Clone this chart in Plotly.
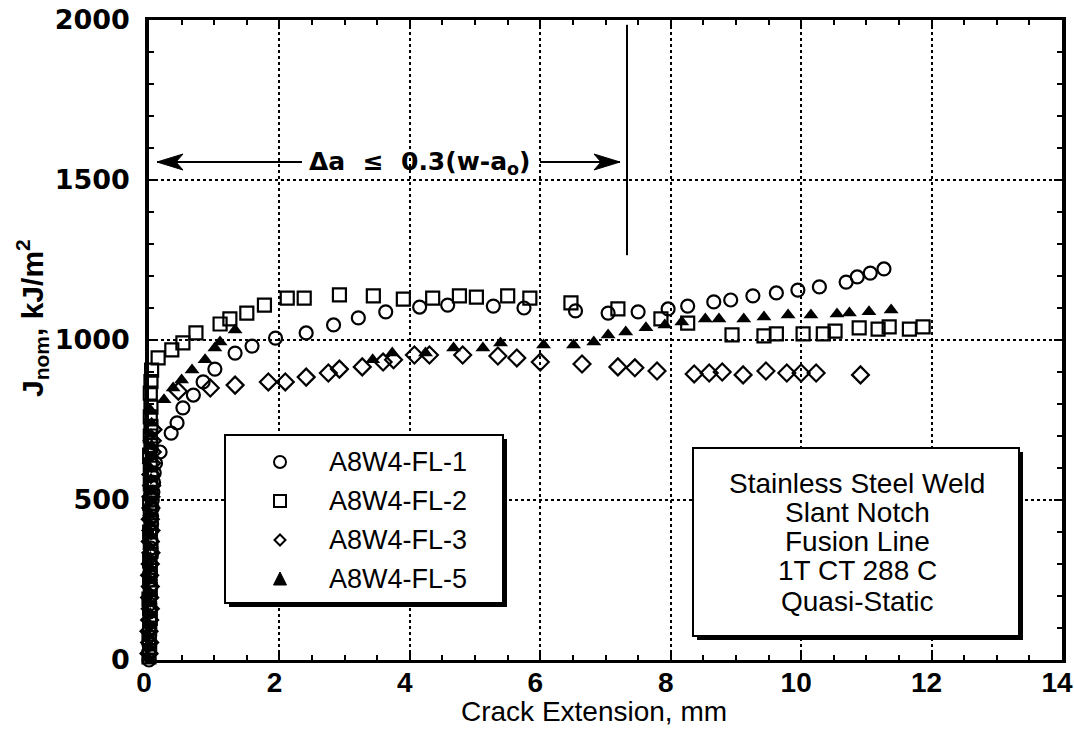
import plotly.graph_objects as go

# ---- data: crack extension (mm) vs J_nom (kJ/m^2) ----
# each series: blunting-region points hugging the axis, then the R-curve points
fl1_x = [0.00, 0.00, 0.00, 0.01, 0.01, 0.01, 0.01, 0.01, 0.02, 0.02, 0.02, 0.02, 0.02,
         0.03, 0.03, 0.03, 0.03, 0.04, 0.04, 0.05, 0.05, 0.06, 0.07, 0.08, 0.10,
         0.17, 0.34, 0.43, 0.52, 0.68, 0.83, 1.01, 1.32, 1.58, 1.94, 2.41, 2.83, 3.21, 3.63,
         4.15, 4.58, 5.28, 5.75, 6.54, 7.04, 7.50, 7.96, 8.26, 8.66, 8.92, 9.26, 9.62, 9.95,
         10.28, 10.69, 10.86, 11.06, 11.27]
fl1_y = [0, 25, 50, 75, 100, 125, 150, 175, 200, 225, 250, 275, 300,
         325, 350, 375, 400, 425, 450, 475, 500, 525, 555, 585, 615,
         650, 709, 741, 788, 828, 869, 909, 959, 981, 1006, 1022, 1047, 1069, 1088,
         1103, 1109, 1106, 1100, 1091, 1084, 1088, 1097, 1106, 1119, 1125, 1138, 1147, 1156,
         1166, 1181, 1197, 1209, 1222]

fl2_x = [0.00, 0.01, 0.00, 0.01, 0.02, 0.01, 0.00, 0.02, 0.01, 0.02, 0.01, 0.03, 0.02, 0.01, 0.03,
         0.02, 0.01, 0.03, 0.02, 0.03, 0.02, 0.01, 0.03, 0.02, 0.03, 0.02, 0.03, 0.02, 0.03, 0.04,
         0.14, 0.35, 0.52, 0.72, 1.09, 1.24, 1.50, 1.77, 2.12, 2.38, 2.92, 3.44, 3.90, 4.35,
         4.76, 5.02, 5.50, 5.84, 6.47, 7.19, 7.85, 8.26, 8.94, 9.43, 9.62, 10.03, 10.34, 10.52,
         10.89, 11.18, 11.35, 11.66, 11.87]
fl2_y = [10, 40, 70, 100, 130, 160, 190, 220, 250, 280, 310, 340, 370, 400, 430,
         460, 490, 520, 550, 580, 610, 640, 670, 700, 730, 760, 790, 834, 870, 906,
         944, 969, 991, 1022, 1050, 1066, 1084, 1109, 1131, 1131, 1141, 1138, 1128, 1131,
         1138, 1134, 1138, 1131, 1116, 1097, 1066, 1053, 1016, 1013, 1019, 1019, 1019, 1028,
         1038, 1034, 1041, 1034, 1041]

fl3_x = [0.00, 0.01, 0.00, 0.01, 0.02, 0.01, 0.02, 0.01, 0.02, 0.03, 0.02, 0.03, 0.02, 0.03,
         0.03, 0.04, 0.03, 0.04, 0.05, 0.05, 0.06,
         0.45, 0.94, 1.32, 1.83, 2.09, 2.41, 2.75, 2.92, 3.27, 3.59, 3.75, 4.07, 4.30, 4.81,
         5.35, 5.64, 6.00, 6.64, 7.19, 7.45, 7.79, 8.36, 8.59, 8.79, 9.11, 9.46, 9.78, 10.00,
         10.23, 10.91]
fl3_y = [20, 55, 90, 125, 160, 195, 230, 265, 300, 335, 370, 405, 440, 475,
         510, 545, 580, 615, 650, 685, 720,
         840, 850, 859, 869, 869, 884, 897, 909, 916, 931, 938, 953, 953, 953,
         950, 944, 931, 925, 916, 913, 903, 894, 897, 900, 891, 903, 897, 897,
         897, 891]

fl5_x = [0.00, 0.01, 0.00, 0.01, 0.02, 0.01, 0.00, 0.02, 0.01, 0.02, 0.01, 0.03, 0.02, 0.01,
         0.03, 0.02, 0.03, 0.02, 0.03, 0.04, 0.03, 0.04, 0.02,
         0.23, 0.37, 0.50, 0.66, 0.86, 1.01, 1.09, 1.32, 3.43, 3.73, 4.24, 4.67, 5.12, 5.39,
         6.05, 6.51, 6.82, 7.04, 7.31, 7.62, 7.91, 8.17, 8.53, 8.74, 9.12, 9.43, 9.80, 10.15,
         10.55, 10.74, 11.04, 11.38]
fl5_y = [5, 40, 75, 110, 145, 180, 215, 250, 285, 320, 355, 390, 425, 460,
         495, 530, 565, 600, 635, 670, 705, 740, 781,
         813, 850, 875, 906, 938, 975, 994, 1031, 938, 959, 959, 975, 975, 991,
         984, 984, 994, 1016, 1025, 1038, 1047, 1056, 1066, 1066, 1066, 1072, 1078, 1078,
         1081, 1084, 1088, 1094]

series_names = ["A8W4-FL-1", "A8W4-FL-2", "A8W4-FL-3", "A8W4-FL-5"]
info_lines = ["Stainless Steel Weld", "Slant Notch", "Fusion Line", "1T CT 288 C", "Quasi-Static"]

x_ticks = [0, 2, 4, 6, 8, 10, 12, 14]
y_ticks = [0, 500, 1000, 1500, 2000]

# validity limit on crack extension
da_limit = 7.33

# ---- layout geometry (pixels) ----
W, H = 1074, 738
ML, MR, MT, MB = 149, 12, 20, 78
PW, PH = W - ML - MR, H - MT - MB


def fx(px):
    return (px - ML) / PW


def fy(py):
    return 1 - (py - MT) / PH


BLACK = "#000000"
fig = go.Figure()

styles = [
    dict(symbol="circle-open", size=13, color=BLACK, line=dict(width=2.2, color=BLACK)),
    dict(symbol="square-open", size=13, color=BLACK, line=dict(width=2.2, color=BLACK)),
    dict(symbol="diamond-open", size=13, color=BLACK, line=dict(width=2.2, color=BLACK)),
    dict(symbol="triangle-up", size=13, color=BLACK, line=dict(width=0)),
]
for name, xs, ys, st in zip(series_names,
                            [fl1_x, fl2_x, fl3_x, fl5_x],
                            [fl1_y, fl2_y, fl3_y, fl5_y], styles):
    fig.add_trace(go.Scatter(x=xs, y=ys, mode="markers", name=name,
                             marker=st, showlegend=False, cliponaxis=False))

# vertical limit line
fig.add_trace(go.Scatter(x=[da_limit, da_limit], y=[1985, 1265], mode="lines",
                         line=dict(color=BLACK, width=2), showlegend=False))

shapes = []
annotations = []


# boxed panel with drop shadow
def shadow_box(x0, y0, x1, y1):
    shapes.append(dict(type="rect", xref="paper", yref="paper", layer="above",
                       x0=fx(x0 + 4), x1=fx(x1 + 4), y0=fy(y0 + 4), y1=fy(y1 + 4),
                       fillcolor=BLACK, line=dict(width=0)))
    shapes.append(dict(type="rect", xref="paper", yref="paper", layer="above",
                       x0=fx(x0), x1=fx(x1), y0=fy(y0), y1=fy(y1),
                       fillcolor="white", line=dict(color=BLACK, width=2)))


shadow_box(225, 435, 503, 603)
leg_rows = [462, 501, 540, 579]
mx = 280
r = 6
# circle
shapes.append(dict(type="circle", xref="paper", yref="paper", layer="above",
                   x0=fx(mx - r), x1=fx(mx + r), y0=fy(leg_rows[0] - r), y1=fy(leg_rows[0] + r),
                   line=dict(color=BLACK, width=2)))
# square
shapes.append(dict(type="rect", xref="paper", yref="paper", layer="above",
                   x0=fx(mx - r), x1=fx(mx + r), y0=fy(leg_rows[1] - r), y1=fy(leg_rows[1] + r),
                   line=dict(color=BLACK, width=2)))
# diamond
d = 5.5
cy = leg_rows[2]
shapes.append(dict(type="path", xref="paper", yref="paper", layer="above",
                   path=f"M {fx(mx - d)},{fy(cy)} L {fx(mx)},{fy(cy - d)} L {fx(mx + d)},{fy(cy)} L {fx(mx)},{fy(cy + d)} Z",
                   line=dict(color=BLACK, width=2)))
# filled triangle
cy = leg_rows[3]
shapes.append(dict(type="path", xref="paper", yref="paper", layer="above",
                   path=f"M {fx(mx - 6.5)},{fy(cy + 6)} L {fx(mx + 6.5)},{fy(cy + 6)} L {fx(mx)},{fy(cy - 7)} Z",
                   fillcolor=BLACK, line=dict(color=BLACK, width=1)))
for name, row in zip(series_names, leg_rows):
    annotations.append(dict(text=name, xref="paper", yref="paper", x=fx(327), y=fy(row),
                            xanchor="left", yanchor="middle", showarrow=False,
                            font=dict(family="Liberation Sans, Arial", size=27, color=BLACK)))

# specimen information box
shadow_box(693, 448, 1019, 636)
for line, row in zip(info_lines, [483, 512, 541, 570, 601]):
    annotations.append(dict(text=line, xref="paper", yref="paper", x=fx(857), y=fy(row),
                            xanchor="center", yanchor="middle", showarrow=False,
                            font=dict(family="Liberation Sans, Arial", size=28, color=BLACK)))

# delta-a limit label with a double-headed arrow (shafts + heads)
arrow_py = 162
annotations.append(dict(text="Δa  ≤  0.3(w-a<sub>o</sub>)", xref="paper", yref="paper",
                        x=fx(420), y=fy(arrow_py + 1), showarrow=False,
                        xanchor="center", yanchor="middle",
                        font=dict(family="DejaVu Sans", size=25, color=BLACK, weight="bold")))
for tip, tail in [(157, 302), (620, 540)]:
    shapes.append(dict(type="line", xref="paper", yref="paper", layer="above",
                       x0=fx(tail), x1=fx(tip), y0=fy(arrow_py), y1=fy(arrow_py),
                       line=dict(color=BLACK, width=2)))
    s = 1 if tip < tail else -1
    head = (f"M {fx(tip)},{fy(arrow_py)} "
            f"L {fx(tip + s * 26)},{fy(arrow_py - 8)} "
            f"L {fx(tip + s * 19)},{fy(arrow_py)} "
            f"L {fx(tip + s * 26)},{fy(arrow_py + 8)} Z")
    shapes.append(dict(type="path", xref="paper", yref="paper", layer="above", path=head,
                       fillcolor=BLACK, line=dict(color=BLACK, width=1)))

# axis titles
annotations.append(dict(text="Crack Extension, mm", xref="paper", yref="paper",
                        x=fx(594), y=fy(711), xanchor="center", yanchor="middle",
                        showarrow=False,
                        font=dict(family="Liberation Sans, Arial", size=28, color=BLACK)))
annotations.append(dict(text="J<sub>nom</sub>, kJ/m<sup>2</sup>", xref="paper", yref="paper",
                        x=fx(32), y=fy(318), xanchor="center", yanchor="middle",
                        textangle=-90, showarrow=False,
                        font=dict(family="Liberation Sans, Arial", size=30, color=BLACK,
                                  weight="bold")))

fig.update_layout(
    width=W, height=H,
    margin=dict(l=ML, r=MR, t=MT, b=MB, autoexpand=False),
    paper_bgcolor="white", plot_bgcolor="white",
    shapes=shapes, annotations=annotations,
    showlegend=False,
)

fig.update_xaxes(
    range=[0, 14], tickvals=x_ticks, ticktext=[str(v) for v in x_ticks],
    automargin=False, ticklabeloverflow="allow",
    showline=True, linecolor=BLACK, linewidth=3, mirror="ticks",
    ticks="inside", ticklen=8, tickwidth=1.5, tickcolor=BLACK,
    minor=dict(dtick=0.5, ticks="inside", ticklen=5, tickcolor=BLACK, tickwidth=1.5, showgrid=False),
    showgrid=True, gridcolor=BLACK, gridwidth=1.5, griddash="dot",
    zeroline=False,
    tickfont=dict(family="Liberation Sans, Arial", size=28, color=BLACK, weight="bold"),
    ticklabelstandoff=-5, ticklabelshift=-5,
)
fig.update_yaxes(
    range=[0, 2000], tickvals=y_ticks, ticktext=[str(v) for v in y_ticks],
    automargin=False, ticklabeloverflow="allow",
    showline=True, linecolor=BLACK, linewidth=3.5, mirror="ticks",
    ticks="inside", ticklen=8, tickwidth=1.5, tickcolor=BLACK,
    minor=dict(dtick=100, ticks="inside", ticklen=5, tickcolor=BLACK, tickwidth=1.5, showgrid=False),
    showgrid=True, gridcolor=BLACK, gridwidth=1.5, griddash="dot",
    zeroline=False,
    tickfont=dict(family="DejaVu Sans", size=27, color=BLACK, weight="bold"),
    ticklabelstandoff=10,
)

fig.write_html("out.html")
